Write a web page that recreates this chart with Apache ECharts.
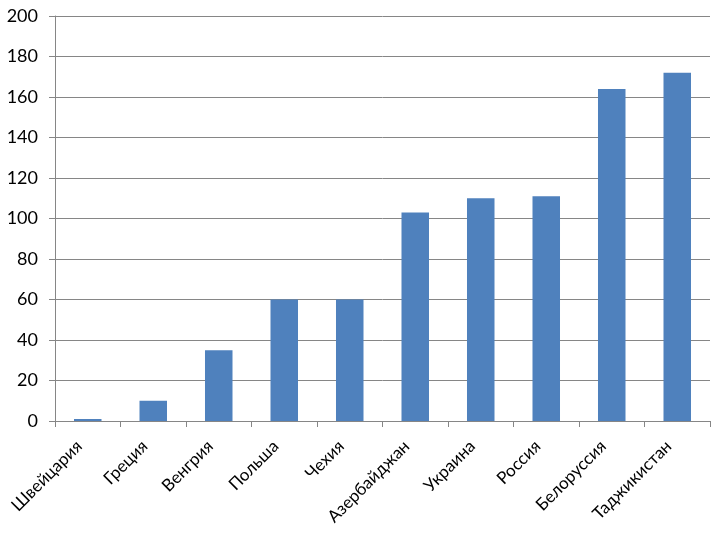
<!DOCTYPE html>
<html>
<head>
<meta charset="utf-8">
<script src="https://cdn.jsdelivr.net/npm/echarts@6/dist/echarts.min.js"></script>
<style>
  html, body { margin: 0; padding: 0; background: #fff; }
  #chart { width: 720px; height: 540px; }
</style>
</head>
<body>
<div id="chart"></div>
<script>
// страны и значения
const countries = ['Швейцария', 'Греция', 'Венгрия', 'Польша', 'Чехия', 'Азербайджан', 'Украина', 'Россия', 'Белоруссия', 'Таджикистан'];
const values = [1, 10, 35, 60, 60, 103, 110, 111, 164, 172];
const yMin = 0;
const yMax = 200;
const yStep = 20;

const chart = echarts.init(document.getElementById('chart'));
chart.setOption({
  animation: false,
  grid: { left: 55, right: 10, top: 16, bottom: 119, containLabel: false },
  xAxis: {
    type: 'category',
    data: countries,
    axisLine: { lineStyle: { color: '#868686', width: 1 } },
    axisTick: { show: true, length: 6, lineStyle: { color: '#868686' } },
    axisLabel: {
      rotate: 45,
      margin: 14,
      padding: [0, 12, 0, 0],
      color: '#000',
      fontFamily: 'Lato',
      fontSize: 17
    }
  },
  yAxis: {
    type: 'value',
    min: yMin,
    max: yMax,
    interval: yStep,
    axisLine: { show: true, lineStyle: { color: '#868686', width: 1 } },
    axisTick: { show: true, length: 6, lineStyle: { color: '#868686' } },
    splitLine: { lineStyle: { color: '#868686', width: 1 } },
    axisLabel: {
      margin: 17,
      color: '#000',
      fontFamily: 'Lato',
      fontSize: 18
    }
  },
  series: [{
    type: 'bar',
    data: values,
    barWidth: '42%',
    itemStyle: { color: '#4F81BD' }
  }]
});
</script>
</body>
</html>
